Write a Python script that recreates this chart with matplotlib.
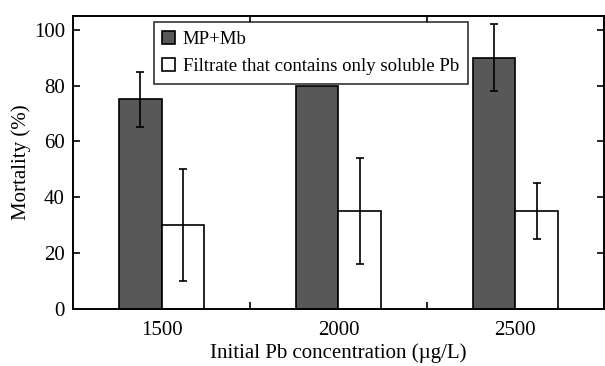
import numpy as np
import matplotlib.pyplot as plt

plt.rcParams['font.family'] = ['Liberation Serif', 'DejaVu Serif']

# dados
concentracoes = [1500, 2000, 2500]
mp_mb = [75, 80, 90]
mp_mb_err = [10, 0, 12]
filtrado = [30, 35, 35]
filtrado_err = [20, 19, 10]

largura = 120

fig = plt.figure(figsize=(6.05, 3.66), dpi=100)
ax = fig.add_axes([0.121, 0.156, 0.877, 0.801])

x = np.array(concentracoes)
ax.bar(x - largura / 2, mp_mb, largura, color='#585858', edgecolor='black', linewidth=1.2,
       label='MP+Mb')
ax.bar(x + largura / 2, filtrado, largura, color='white', edgecolor='black', linewidth=1.2,
       label='Filtrate that contains only soluble Pb')
ax.errorbar(x[[0, 2]] - largura / 2, np.array(mp_mb)[[0, 2]], yerr=np.array(mp_mb_err)[[0, 2]],
            fmt='none', ecolor='black', elinewidth=1.2, capsize=3, capthick=1.2)
ax.errorbar(x + largura / 2, filtrado, yerr=filtrado_err,
            fmt='none', ecolor='black', elinewidth=1.2, capsize=3, capthick=1.2)

ax.set_xlim(1250, 2750)
ax.set_ylim(0, 105)
ax.set_xticks(concentracoes)
ax.set_xticks([1750, 2250], minor=True)
ax.tick_params(axis='x', which='major', length=0, labelsize=15, pad=9)
ax.tick_params(axis='x', which='minor', direction='in', length=5, top=True, width=1.2)
ax.set_yticks([0, 20, 40, 60, 80, 100])
ax.tick_params(axis='y', direction='in', length=5, right=True, labelsize=15, width=1.2, pad=6)
for s in ax.spines.values():
    s.set_linewidth(1.4)

ax.set_xlabel('Initial Pb concentration (\u00b5g/L)', fontsize=15, labelpad=2)
ax.set_ylabel('Mortality (%)', fontsize=15, labelpad=2)

leg = ax.legend(loc='upper left', bbox_to_anchor=(0.152, 0.978), fontsize=13.5, frameon=True,
                fancybox=False, edgecolor='black', handlelength=0.7, handleheight=0.7,
                handletextpad=0.4, borderpad=0.45, labelspacing=0.55, borderaxespad=0)
leg.get_frame().set_linewidth(1.2)

fig.savefig('out.png', dpi=100)
